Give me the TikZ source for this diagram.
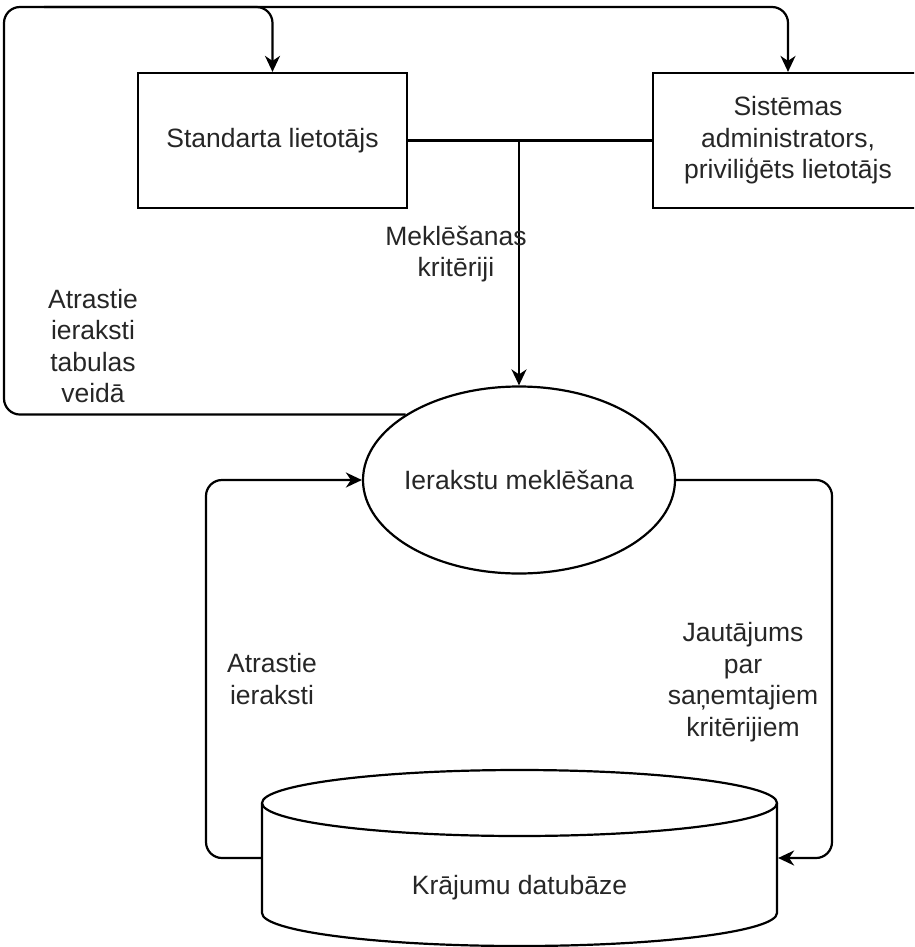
\documentclass[tikz,border=0pt]{standalone}
\usepackage{fontspec}
\setmainfont{Liberation Sans}
\usetikzlibrary{arrows.meta,shapes.geometric,calc}
\begin{document}
\begin{tikzpicture}[x=1pt,y=-1pt,
  line/.style={draw=black, line width=2.2pt},
  txt/.style={font=\fontsize{26.5}{31.5}\selectfont, text=black!85, align=center},
  lbl/.style={txt, inner sep=0pt},
  box/.style={line, txt, rectangle, inner sep=0pt},
  flow/.style={line, rounded corners=16pt, -{Stealth[length=16pt,width=15pt,inset=5pt]}}]
\useasboundingbox (0,0) rectangle (914,947);
\clip (0,0) rectangle (914,947);

% actors
\node[box, minimum width=269, minimum height=135] (std) at (272.5,140.5) {Standarta lietotājs};
\node[box, minimum width=270, minimum height=135] (adm) at (788,140.5)
  {Sistēmas\\administrators,\\priviliģēts lietotājs};

% process
\node[line, ellipse, inner sep=0pt, minimum width=312, minimum height=187] (srch) at (519,480) {};
\node[lbl] (srchtxt) at (srch.center) {Ierakstu meklēšana};

% data store (cylinder drawn by hand, node used for anchors)
\node[draw=none, rectangle, inner sep=0pt, outer sep=1.1pt, minimum width=515, minimum height=176] (db) at (519.5,858) {};
\draw[line, fill=white] (262,803) -- (262,913) arc[start angle=180, end angle=0, x radius=257.5, y radius=33] -- (777,803);
\draw[line, fill=white] (519.5,803) ellipse [x radius=257.5, y radius=33];
\node[lbl] (dbtxt) at (519.5,888) {Krājumu datubāze};

% routing points
\coordinate (tl) at (4,7);
\coordinate (lx) at (206,0);
\coordinate (rx) at (832,0);

% search criteria from both users
\draw[line] (std.east) -- (adm.west);
\draw[flow] (std.east -| srch.north) -- (srch.north);

% results back to users
\draw[flow] (srch.150) -| (tl) -| (std.north);
\draw[flow] ($(tl)+(40,0)$) -| (adm.north);

% query to database and results back
\draw[flow] (srch.east) -- (srch.east -| rx) -- (rx |- db.east) -- (db.east);
\draw[flow] (db.west) -- (db.west -| lx) -- (lx |- srch.west) -- (srch.west);

% labels
\node[lbl] (crit) at (456,254) {Meklēšanas\\kritēriji};
\node[lbl] (found1) at (93,346) {Atrastie\\ieraksti\\tabulas\\veidā};
\node[lbl] (found2) at (272,679) {Atrastie\\ieraksti};
\node[lbl] (query) at (743,682) {Jautājums\\par\\saņemtajiem\\kritērijiem};
\end{tikzpicture}
\end{document}
